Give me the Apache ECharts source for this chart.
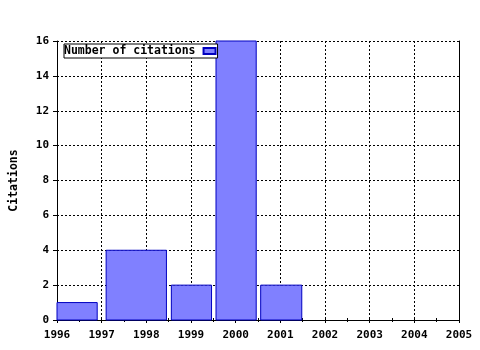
<!DOCTYPE html>
<html><head><meta charset="utf-8">
<script src="https://cdn.jsdelivr.net/npm/echarts@6/dist/echarts.min.js"></script>
<style>html,body{margin:0;padding:0;background:#fff}#c{width:480px;height:350px}</style>
</head><body><div id="c"></div>
<script>
var barStart = [1996.0, 1997.1, 1998.56, 1999.56, 2000.56];
var barEnd   = [1996.9, 1998.45, 1999.46, 2000.46, 2001.48];
var citations = [1, 4, 2, 16, 2];
var seriesName = 'Number of citations';
var yTitle = 'Citations';

var data = barStart.map(function(s, i){ return [s, barEnd[i], citations[i]]; });
var font = 'DejaVu Sans Mono';
var chart = echarts.init(document.getElementById('c'), null, {renderer:'canvas'});
var dotted = {show:true, lineStyle:{color:'#000', type:[2,2], width:1}};
chart.setOption({
  animation:false,
  grid:{left:57, right:21, top:41, bottom:30},
  legend:{
    data:[seriesName], left:64, top:44, align:'right', orient:'horizontal',
    backgroundColor:'#fff', borderColor:'#000', borderWidth:1, borderRadius:0,
    padding:[1,1,1,0], itemWidth:12, itemHeight:6, itemGap:0,
    icon:'rect',
    textStyle:{fontFamily:font, fontWeight:'bold', fontSize:11.5, color:'#000', padding:[0,3,0,0]}
  },
  xAxis:[{
    type:'value', min:1996, max:2005, interval:1, position:'bottom',
    axisLine:{lineStyle:{color:'#000'}},
    axisTick:{show:true, length:3, lineStyle:{color:'#000'}},
    minorTick:{show:true, splitNumber:2, length:2, lineStyle:{color:'#000'}},
    axisLabel:{fontFamily:font, fontWeight:'bold', fontSize:11, color:'#000', margin:10,
      formatter:function(v){ return String(v); }},
    splitLine:dotted
  },{
    type:'value', min:1996, max:2005, interval:1, position:'top',
    axisLine:{lineStyle:{color:'#000'}},
    axisTick:{show:true, length:3, lineStyle:{color:'#000'}},
    minorTick:{show:true, splitNumber:2, length:2, lineStyle:{color:'#000'}},
    axisLabel:{show:false}, splitLine:{show:false}
  }],
  yAxis:[{
    type:'value', min:0, max:16, interval:2, position:'left',
    name:yTitle, nameLocation:'middle', nameGap:37, nameRotate:90,
    nameTextStyle:{fontFamily:font, fontWeight:'bold', fontSize:11.5, color:'#000'},
    axisLine:{show:true, lineStyle:{color:'#000'}},
    axisTick:{show:true, length:4, lineStyle:{color:'#000'}},
    axisLabel:{fontFamily:font, fontWeight:'bold', fontSize:11, color:'#000', margin:8},
    splitLine:dotted
  },{
    type:'value', min:0, max:16, interval:2, position:'right',
    axisLine:{show:true, lineStyle:{color:'#000'}},
    axisTick:{show:false}, axisLabel:{show:false}, splitLine:{show:false}
  }],
  series:[{
    name:seriesName, type:'custom', xAxisIndex:0, yAxisIndex:0,
    itemStyle:{color:'#8080ff', borderColor:'#0000c0', borderWidth:1},
    encode:{x:[0,1], y:2},
    data:data,
    renderItem:function(params, api){
      var p0 = api.coord([api.value(0), api.value(2)]);
      var p1 = api.coord([api.value(1), 0]);
      return {type:'rect', shape:{x:p0[0], y:p0[1], width:p1[0]-p0[0], height:p1[1]-p0[1]},
        style:{fill:'#8080ff', stroke:'#0000c0', lineWidth:1}};
    }
  }]
});
</script></body></html>
